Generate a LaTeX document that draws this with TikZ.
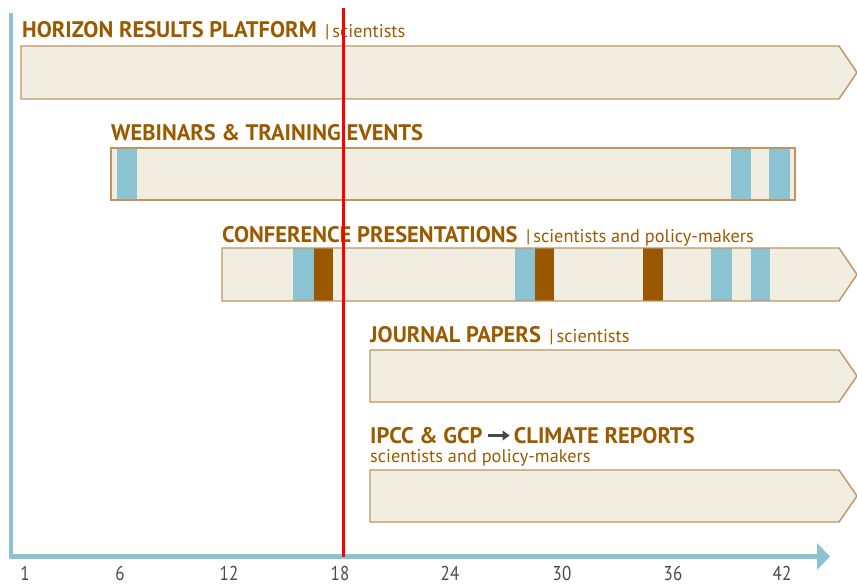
\documentclass[tikz,border=0pt]{standalone}
\usepackage{fontspec}
\usetikzlibrary{arrows.meta}
\setmainfont{PT Sans}
\definecolor{ttl}{HTML}{9B5A00}
\definecolor{boxfill}{HTML}{F2EDE1}
\definecolor{boxline}{HTML}{C0935F}
\definecolor{stripeblue}{HTML}{8BC3D3}
\definecolor{stripebrown}{HTML}{995800}
\definecolor{axisblue}{HTML}{8BC3D3}
\definecolor{ticktext}{HTML}{4A4A4A}
\tikzset{
  titlelabel/.style={anchor=base west, inner sep=0pt, text=ttl, font=\fontsize{22.5}{26}\selectfont\bfseries},
  sublabel/.style={anchor=base west, inner sep=0pt, text=ttl, font=\fontsize{18.3}{21}\selectfont},
  barline/.style={draw=boxline, line width=1.4pt, fill=none},
  blueband/.style={fill=stripeblue, draw=none},
  brownband/.style={fill=stripebrown, draw=none},
  ticklabel/.style={anchor=base, inner sep=0pt, text=ticktext, font=\fontsize{20}{23}\selectfont, xscale=0.85},
  titlearrow/.style={draw=ticktext, line width=2.6pt, -{Triangle[length=7pt,width=9.5pt]}, shorten <=5pt, shorten >=4pt},
}
\newcommand{\arrowbar}[3]{% left x, top y, bottom y
  \fill[boxfill] (#1,#2) -- (839,#2) -- (857,{(#2+#3)/2}) -- (839,#3) -- (#1,#3) -- cycle;
}
\newcommand{\arrowbarline}[3]{%
  \draw[barline, line join=miter] (#1,#2) -- (839,#2) -- (857,{(#2+#3)/2}) -- (839,#3) -- (#1,#3) -- cycle;
}
\begin{document}
\begin{tikzpicture}[x=1pt,y=-1pt]
\useasboundingbox (0,0) rectangle (857,585);

% ---- Horizon results platform
\arrowbar{21}{46}{99}
\arrowbarline{21}{46}{99}
\node[titlelabel] (t1) at (22,38) {HORIZON RESULTS PLATFORM};
\node[sublabel] (s1) at ([xshift=8pt]t1.base east) {|\hspace{3pt}scientists};

% ---- Webinars
\fill[boxfill] (111,148) rectangle (795,200);
\fill[blueband] (117,148) rectangle (137,200);
\fill[blueband] (731,148) rectangle (751,200);
\fill[blueband] (769,148) rectangle (790,200);
\draw[barline] (111,148) rectangle (795,200);
\node[titlelabel] (t2) at (111,141) {WEBINARS \& TRAINING EVENTS};

% ---- Conference presentations
\arrowbar{222}{248}{301}
\fill[blueband] (293,248) rectangle (314,301);
\fill[brownband] (314,248) rectangle (333,301);
\fill[blueband] (515,248) rectangle (535,301);
\fill[brownband] (535,248) rectangle (554,301);
\fill[brownband] (643,248) rectangle (663,301);
\fill[blueband] (711,248) rectangle (732,301);
\fill[blueband] (751,248) rectangle (770,301);
\arrowbarline{222}{248}{301}
\node[titlelabel] (t3) at (222,243) {CONFERENCE PRESENTATIONS};
\node[sublabel] (s3) at ([xshift=8pt]t3.base east) {|\hspace{3pt}scientists and policy-makers};

% ---- Journal papers
\arrowbar{370}{350}{402}
\arrowbarline{370}{350}{402}
\node[titlelabel] (t4) at (370,343) {JOURNAL PAPERS};
\node[sublabel] (s4) at ([xshift=8pt]t4.base east) {|\hspace{3pt}scientists};

% ---- IPCC & GCP
\arrowbar{370}{470}{522}
\arrowbarline{370}{470}{522}
\node[titlelabel] (t5a) at (370,443) {IPCC \& GCP};
\node[titlelabel] (t5b) at ([xshift=31pt]t5a.base east) {CLIMATE REPORTS};
\draw[titlearrow] ([yshift=7.5pt]t5a.base east) -- ([yshift=7.5pt]t5b.base west);
\node[sublabel] (s5) at (370,462) {scientists and policy-makers};

% ---- Axes
\coordinate (ytop) at (11,13);
\coordinate (origin) at (11,556.5);
\coordinate (xend) at (818,556.5);
\coordinate (xtip) at (830,556.5);
\draw[axisblue, line width=4.5pt] (ytop) -- (origin);
\draw[axisblue, line width=5pt] (8.75,556.5) -- (xend);
\fill[axisblue] (817,543) -- (xtip) -- (817,570) -- cycle;

% ---- tick labels
\node[ticklabel] (m1) at (25,580) {1};
\node[ticklabel] (m6) at (120,580) {6};
\node[ticklabel] (m12) at (229,580) {12};
\node[ticklabel] (m18) at (340,580) {18};
\node[ticklabel] (m24) at (450,580) {24};
\node[ticklabel] (m30) at (562,580) {30};
\node[ticklabel] (m36) at (673,580) {36};
\node[ticklabel] (m42) at (782,580) {42};

% ---- red "today" line
\coordinate (rtop) at (343,8);
\coordinate (rbot) at (343,557);
\draw[red, line width=3pt] (rtop) -- (rbot);
\end{tikzpicture}
\end{document}
